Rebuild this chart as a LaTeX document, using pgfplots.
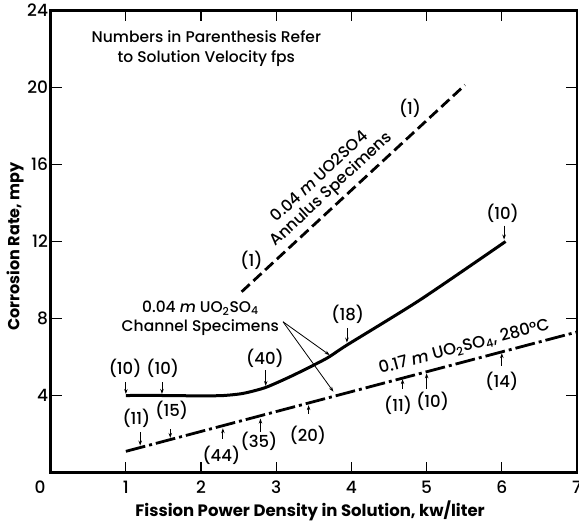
\documentclass[border=0pt]{standalone}
\usepackage{fontspec}
\setmainfont{Poppins}[UprightFont={* Medium}, BoldFont={* Bold}, ItalicFont={* Medium Italic}]
\usepackage{pgfplots}
\usepackage{pgfplotstable}
\pgfplotsset{compat=1.18}
\usetikzlibrary{arrows.meta}

% 0.04 m UO2SO4, channel specimens
\pgfplotstableread{
x y
1.00 4.00
1.50 4.00
2.00 3.98
2.30 4.00
2.56 4.11
2.86 4.42
3.23 5.06
3.67 5.93
3.94 6.62
4.91 8.96
6.05 12.00
}\channel

% 0.04 m UO2SO4, annulus specimens
\pgfplotstableread{
x y
2.54 9.39
5.51 20.13
}\annulus

% 0.17 m UO2SO4, 280 C
\pgfplotstableread{
x y
1.00 1.10
7.00 7.30
}\highconc

\begin{document}
\begin{tikzpicture}[
  lbl/.style={font=\fontsize{16.5}{18}\selectfont, inner sep=0pt},
  ptr/.style={line width=0.8pt, -{Stealth[length=5pt,width=3.5pt]}},
]
\begin{axis}[
  scale only axis, width=526.3pt, height=462pt,
  xmin=0, xmax=7, ymin=0, ymax=24,
  xtick={1,...,7}, ytick={4,8,...,24},
  tick align=inside, tick pos=both,
  xticklabel pos=lower, yticklabel pos=left,
  major tick length=11pt,
  tick style={line width=1.2pt, black},
  axis line style={line width=2.4pt},
  ticklabel style={font=\fontsize{17}{20}\selectfont},
  /pgf/number format/assume math mode=true,
  xticklabel style={anchor=center, yshift=-14.5pt},
  yticklabel style={anchor=east, inner sep=0pt, xshift=-2.5pt},
  clip=false,
]
\coordinate (ll) at (rel axis cs:0,0);
\coordinate (ur) at (rel axis cs:1,1);

\addplot[line width=3pt, smooth, tension=0.4] table {\channel};
\addplot[line width=2.8pt, dash pattern=on 11pt off 5pt] table {\annulus};
\addplot[line width=2.8pt, dash pattern=on 20pt off 4pt on 3pt off 4pt] table {\highconc};

% axis titles and corner zero
\node[font=\fontsize{17}{20}\selectfont] at ([xshift=-10.7pt,yshift=-14.5pt]axis cs:0,0) {0};
\node[font=\bfseries\fontsize{16}{18}\selectfont, rotate=90] at ([xshift=-35.7pt]rel axis cs:0,0.489) {Corrosion Rate, mpy};
\node[font=\bfseries\fontsize{16.5}{18}\selectfont] at ([yshift=-38.5pt]axis cs:3.45,0) {Fission Power Density in Solution, kw/liter};

% note
\node[lbl, align=center, font=\fontsize{15.5}{20}\selectfont] at (axis cs:2.07,22.0)
  {Numbers in Parenthesis Refer\\to Solution Velocity fps};

% velocity labels, channel specimens
\node[lbl] at (axis cs:0.99,5.40) {(10)};
\draw[ptr] (axis cs:1.00,4.70) -- (axis cs:1.00,4.08);
\node[lbl] at (axis cs:1.49,5.40) {(10)};
\draw[ptr] (axis cs:1.48,4.70) -- (axis cs:1.48,4.08);
\node[lbl] at (axis cs:2.85,5.95) {(40)};
\draw[ptr] (axis cs:2.86,5.32) -- (axis cs:2.86,4.50);
\node[lbl] at (axis cs:3.95,8.23) {(18)};
\draw[ptr] (axis cs:3.94,7.50) -- (axis cs:3.94,6.75);
\node[lbl] at (axis cs:6.01,13.48) {(10)};
\draw[ptr] (axis cs:6.03,12.82) -- (axis cs:6.03,12.10);

% velocity labels, 0.17 m
\node[lbl] at (axis cs:1.14,2.83) {(11)};
\draw[ptr] (axis cs:1.19,2.10) -- (axis cs:1.19,1.40);
\node[lbl] at (axis cs:1.61,3.25) {(15)};
\draw[ptr] (axis cs:1.59,2.25) -- (axis cs:1.59,1.80);
\node[lbl] at (axis cs:2.27,0.91) {(44)};
\draw[ptr] (axis cs:2.29,1.75) -- (axis cs:2.29,2.30);
\node[lbl] at (axis cs:2.77,1.60) {(35)};
\draw[ptr] (axis cs:2.79,2.12) -- (axis cs:2.79,2.80);
\node[lbl] at (axis cs:3.42,1.95) {(20)};
\draw[ptr] (axis cs:3.43,3.05) -- (axis cs:3.43,3.50);
\node[lbl] at (axis cs:4.62,3.51) {(11)};
\draw[ptr] (axis cs:4.68,4.35) -- (axis cs:4.68,4.85);
\node[lbl] at (axis cs:5.08,3.68) {(10)};
\draw[ptr] (axis cs:5.00,4.35) -- (axis cs:5.00,5.15);
\node[lbl] at (axis cs:6.00,4.72) {(14)};
\draw[ptr] (axis cs:6.00,5.55) -- (axis cs:6.00,6.20);

% annulus labels
\node[lbl] at (axis cs:2.67,11.04) {(1)};
\node[lbl] at (axis cs:4.78,18.92) {(1)};
\node[lbl, align=center, rotate=42.8, font=\fontsize{16}{17}\selectfont] at (axis cs:3.66,15.0)
  {0.04 \textit{m} UO2SO4\\Annulus Specimens};

% channel label with pointers
\node[lbl, align=center, font=\fontsize{15.5}{19}\selectfont] at (axis cs:1.99,8.03)
  {0.04 \textit{m} UO\textsubscript{2}SO\textsubscript{4}\\Channel Specimens};
\draw[ptr] (axis cs:3.09,7.83) -- (axis cs:3.71,6.10);
\draw[ptr] (axis cs:3.09,7.83) -- (axis cs:3.76,4.20);

% 0.17 m curve label
\node[lbl, rotate=14.8] at (axis cs:5.50,6.53)
  {0.17 \textit{m} UO\textsubscript{2}SO\textsubscript{4}, 280\textdegree C};
\end{axis}
\pgfresetboundingbox
\path[use as bounding box] ([xshift=-50.7pt,yshift=-49.5pt]ll) rectangle ([xshift=2pt,yshift=10.5pt]ur);
\end{tikzpicture}
\end{document}
